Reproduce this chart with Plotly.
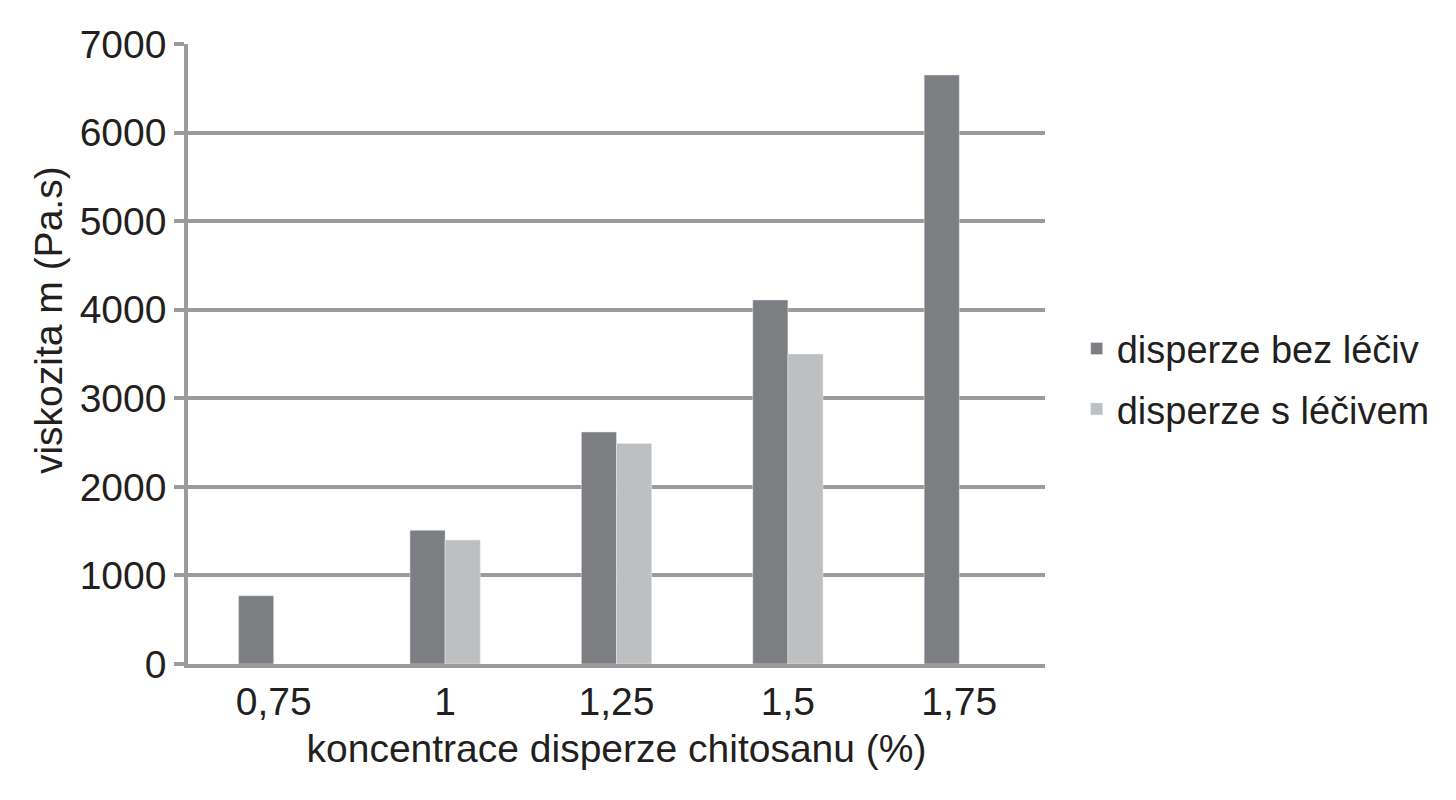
import plotly.graph_objects as go

# koncentrace chitosanu (%)
kategorie = ["0,75", "1", "1,25", "1,5", "1,75"]
bez_leciv = [770, 1510, 2620, 4110, 6650]
s_lecivem = [None, 1400, 2490, 3500, None]
y_ticks = [0, 1000, 2000, 3000, 4000, 5000, 6000, 7000]

fig = go.Figure()
fig.add_trace(go.Bar(x=kategorie, y=bez_leciv, name="disperze bez léčiv",
                     marker_color="#7d7e82", legendgroup="a"))
fig.add_trace(go.Bar(x=kategorie, y=s_lecivem, name="disperze s léčivem",
                     marker_color="#bebfc1", legendgroup="b"))

grid = "#9b9b9b"
fig.update_layout(
    width=1456, height=800,
    margin=dict(l=180, r=419, t=36, b=144),
    paper_bgcolor="white", plot_bgcolor="white",
    font=dict(family="Liberation Sans, Arial, sans-serif", size=39, color="#231f20"),
    barmode="group", bargap=0.59, bargroupgap=0,
    legend=dict(x=1.037, y=0.46, xanchor="left", yanchor="middle",
                font=dict(size=38), itemwidth=30, tracegroupgap=8),
    annotations=[dict(text="viskozita m (Pa.s)", textangle=-90,
                      xref="paper", yref="paper", x=-0.162, y=0.555,
                      xanchor="center", yanchor="middle", showarrow=False,
                      font=dict(size=39))],
)
fig.update_xaxes(
    title=dict(text="koncentrace disperze chitosanu (%)", font=dict(size=39), standoff=14),
    showline=True, linecolor=grid, linewidth=3.5, ticks="", showgrid=False,
)
fig.update_yaxes(
    range=[0, 7000], tickvals=y_ticks,
    showgrid=True, gridcolor=grid, gridwidth=3.5,
    showline=True, linecolor=grid, linewidth=3.5,
    ticks="outside", ticklen=10, tickcolor=grid, tickwidth=3.5,
    zeroline=False,
)

fig.write_html("out.html")
